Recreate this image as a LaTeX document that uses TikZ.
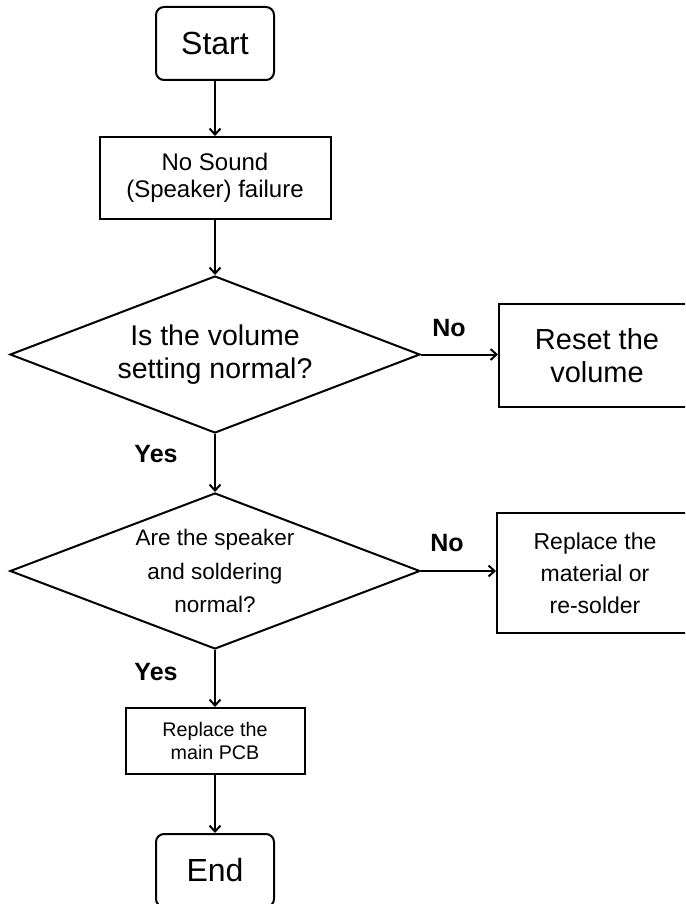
\documentclass[tikz,border=0pt]{standalone}
\usepackage{fontspec}
\setmainfont{Liberation Sans}
\usetikzlibrary{shapes.geometric, arrows.meta, positioning}
\tikzset{
  flowline/.style={draw, line width=2pt},
  termbox/.style={flowline, rounded corners=8pt, minimum width=118pt, minimum height=73pt,
    inner sep=0pt, font=\fontsize{32}{36}\selectfont},
  stepbox/.style={flowline, inner sep=0pt, align=center},
  decision/.style={flowline, diamond, aspect=2.6, inner sep=0pt, align=center,
    minimum width=410pt, minimum height=157pt},
  answer/.style={font=\fontsize{25}{28}\selectfont\bfseries},
  flowarrow/.style={line width=2pt, -{Straight Barb[length=6pt, width=11pt]}}}

\begin{document}
\begin{tikzpicture}[x=1pt, y=-1pt]
\useasboundingbox (0,0) rectangle (685,904);
\clip (0,0) rectangle (685,904);
% main column: start, fault, two checks, repair, end
\node[termbox] (start) at (215,43.5) {Start};
\node[stepbox, minimum width=231pt, minimum height=82pt, font=\fontsize{24}{27}\selectfont]
  (fault) at (215,178) {No Sound\\(Speaker) failure};
\node[decision, font=\fontsize{28.5}{33}\selectfont] (volq) at (215,354.5)
  {Is the volume\\setting normal?};
\node[decision, minimum height=156pt, font=\fontsize{22.5}{33.5}\selectfont] (spkq) at (215,571)
  {Are the speaker\\and soldering\\normal?};
\node[stepbox, minimum width=179pt, minimum height=66pt, font=\fontsize{19.7}{23}\selectfont]
  (pcb) at (215,741) {Replace the\\main PCB};
\node[termbox] (end) at (215,870.5) {End};
% side branches for the No answers
\node[stepbox, minimum width=196pt, minimum height=103pt, font=\fontsize{29}{33}\selectfont]
  (reset) at (597,355.5) {Reset the\\volume};
\node[stepbox, minimum width=196pt, minimum height=120pt, font=\fontsize{23}{32}\selectfont]
  (resolder) at (595,573) {Replace the\\material or\\re-solder};
% connectors
\draw[flowarrow] (start) -- (fault);
\draw[flowarrow] (fault) -- (volq);
\draw[flowarrow] (volq) -- (spkq);
\draw[flowarrow] (spkq) -- (pcb);
\draw[flowarrow] (pcb) -- (end);
\draw[flowarrow] (volq.east) -- (volq.east -| reset.west);
\draw[flowarrow] (spkq.east) -- (spkq.east -| resolder.west);
% answer labels
\node[answer] (no1) at (449,328) {No};
\node[answer] (no2) at (447,543) {No};
\node[answer] (yes1) at (156,454) {Yes};
\node[answer] (yes2) at (156,672) {Yes};
\end{tikzpicture}
\end{document}
